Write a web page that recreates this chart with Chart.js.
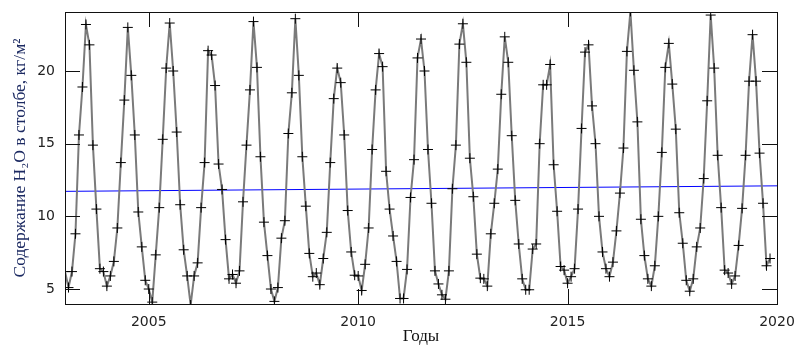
<!DOCTYPE html>
<html>
<head>
<meta charset="utf-8">
<script src="https://cdn.jsdelivr.net/npm/chart.js@4/dist/chart.umd.min.js"></script>
<style>
  body { margin: 0; background: #fff; }
  canvas { display: block; }
</style>
</head>
<body>
<canvas id="pwv" width="795" height="345"></canvas>
<script>
// Monthly column water vapour, kg/m2 (Jan..Dec)
const w2003 = [6.2, 5.1, 6.2, 8.8, 15.6, 18.9, 23.2, 21.8, 14.9, 10.5, 6.4, 6.2];
const w2004 = [5.2, 5.9, 6.9, 9.2, 13.7, 18.0, 23.0, 19.7, 15.6, 10.3, 7.9, 5.6];
const w2005 = [5.0, 4.1, 7.35, 10.6, 15.3, 20.2, 23.3, 20.0, 15.8, 10.8, 7.7, 5.9];
const w2006 = [3.9, 5.9, 6.8, 10.6, 13.7, 21.4, 21.1, 19.0, 13.6, 11.85, 8.4, 5.7];
const w2007 = [6.0, 5.4, 6.25, 11.0, 14.9, 18.7, 23.4, 20.25, 14.1, 9.6, 7.3, 5.0];
const w2008 = [4.15, 5.1, 8.5, 9.7, 15.7, 18.5, 23.6, 19.7, 14.1, 10.7, 7.45, 5.85];
const w2009 = [6.1, 5.3, 7.1, 8.9, 13.7, 18.1, 20.2, 19.2, 15.6, 10.4, 7.55, 5.95];
const w2010 = [5.9, 4.9, 6.7, 9.2, 14.6, 18.7, 21.2, 20.3, 13.1, 10.5, 8.65, 6.9];
const w2011 = [4.35, 4.35, 6.35, 11.3, 13.9, 20.9, 22.2, 20.0, 14.6, 10.9, 6.25, 5.35];
const w2012 = [4.6, 4.3, 6.25, 11.9, 14.9, 21.85, 23.25, 20.6, 14.0, 11.35, 7.4, 5.75];
const w2013 = [5.7, 5.2, 8.8, 10.9, 13.25, 18.4, 22.35, 20.6, 15.55, 11.1, 8.1, 5.7];
const w2014 = [4.95, 4.95, 7.75, 8.1, 15.0, 19.05, 19.05, 20.45, 13.55, 10.35, 6.55, 6.3];
const w2015 = [5.4, 5.85, 6.4, 10.5, 16.05, 21.3, 21.8, 17.6, 15.0, 10.0, 7.55, 6.4];
const w2016 = [5.85, 6.85, 9.0, 11.6, 14.7, 21.35, 24.1, 20.05, 16.5, 9.8, 7.3, 5.7];
const w2017 = [5.2, 6.6, 10.0, 14.4, 20.25, 21.9, 19.1, 16.0, 10.25, 8.15, 5.6, 4.85];
const w2018 = [5.7, 7.9, 9.2, 12.6, 17.95, 23.85, 20.2, 14.2, 10.6, 6.3, 6.1, 5.35];
const w2019 = [5.9, 8.0, 10.55, 14.2, 19.3, 22.5, 19.3, 14.35, 10.9, 6.6, 7.1];

const startYear = 2003;
const yearly = [w2003, w2004, w2005, w2006, w2007, w2008, w2009, w2010, w2011,
                w2012, w2013, w2014, w2015, w2016, w2017, w2018, w2019];

// linear trend, end points
const trendX = [2003, 2020];
const trendY = [11.72, 12.1];

const xTicks = [2005, 2010, 2015, 2020];
const yTicks = [5, 10, 15, 20];


var monthly = [];
yearly.forEach(function (vals, i) {
    vals.forEach(function (v, m) {
        monthly.push({x: startYear + i + m / 12, y: v});
    });
});
var trend = trendX.map(function (x, i) { return {x: x, y: trendY[i]}; });


// frame + inward ticks on all four sides
var frameTicks = {
    id: 'frameTicks',
    afterDatasetsDraw: function (chart) {
        var c = chart.ctx, a = chart.chartArea;
        var sx = chart.scales.x, sy = chart.scales.y;
        var len = 15;
        c.save();
        c.strokeStyle = '#111';
        c.lineWidth = 1;
        c.beginPath();
        yTicks.forEach(function (v) {
            var y = Math.round(sy.getPixelForValue(v)) + 0.5;
            c.moveTo(a.left, y); c.lineTo(a.left + len, y);
            c.moveTo(a.right, y); c.lineTo(a.right - len, y);
        });
        xTicks.forEach(function (v) {
            var x = Math.round(sx.getPixelForValue(v)) + 0.5;
            c.moveTo(x, a.top); c.lineTo(x, a.top + len);
            c.moveTo(x, a.bottom); c.lineTo(x, a.bottom - len);
        });
        c.stroke();
        c.strokeRect(Math.round(a.left) + 0.5, Math.round(a.top) + 0.5,
                     Math.round(a.right - a.left), Math.round(a.bottom - a.top));
        c.restore();
    }
};


var ctx = document.getElementById('pwv').getContext('2d');
var pwvChart = new Chart(ctx, {
    type: 'line',
    data: {
        datasets: [{
            label: 'PWV',
            data: monthly,
            borderColor: '#7a7a7a',
            borderWidth: 2,
            pointStyle: 'cross',
            pointRadius: 5,
            pointBorderColor: '#000',
            pointBorderWidth: 1,
            tension: 0
        },
        {
            label: 'trend',
            data: trend,
            borderColor: '#0000ff',
            borderWidth: 1,
            pointRadius: 0
        }]
    },
    options: {
        responsive: false,
        animation: false,
        layout: { padding: { top: 12, right: 18, left: 0, bottom: 0 } },
        plugins: {
            legend: { display: false },
            tooltip: { enabled: false }
        },
        scales: {
            x: {
                type: 'linear',
                min: 2003,
                max: 2020,
                afterBuildTicks: function (s) { s.ticks = xTicks.map(function (v) { return {value: v}; }); },
                afterFit: function (s) { s.height = 41; s.paddingLeft = 0; s.paddingRight = 0; },
                grid: { display: false, drawTicks: false },
                border: { display: false },
                ticks: {
                    padding: 10,
                    maxRotation: 0,
                    color: '#222',
                    font: { family: 'DejaVu Sans', size: 14 },
                    callback: function (v) { return String(v); }
                },
                title: {
                    display: true,
                    text: 'Годы',
                    color: '#111',
                    padding: { top: 0, bottom: 0 },
                    font: { family: 'Liberation Serif', size: 17, lineHeight: 1.0 }
                }
            },
            y: {
                min: 3.97,
                max: 24.06,
                afterBuildTicks: function (s) { s.ticks = yTicks.map(function (v) { return {value: v}; }); },
                afterFit: function (s) { s.width = 65; s.paddingTop = 0; s.paddingBottom = 0; },
                grid: { display: false, drawTicks: false },
                border: { display: false },
                ticks: {
                    padding: 10,
                    color: '#222',
                    font: { family: 'DejaVu Sans', size: 14 },
                    callback: function (v) { return String(v); }
                },
                title: {
                    display: true,
                    text: 'Содержание H₂O в столбе, кг/м²',
                    color: '#1c2a62',
                    padding: { top: 10, bottom: 0 },
                    font: { family: 'Liberation Serif', size: 17.5 }
                }
            }
        }
    },
    plugins: [frameTicks]
});
</script>
</body>
</html>
